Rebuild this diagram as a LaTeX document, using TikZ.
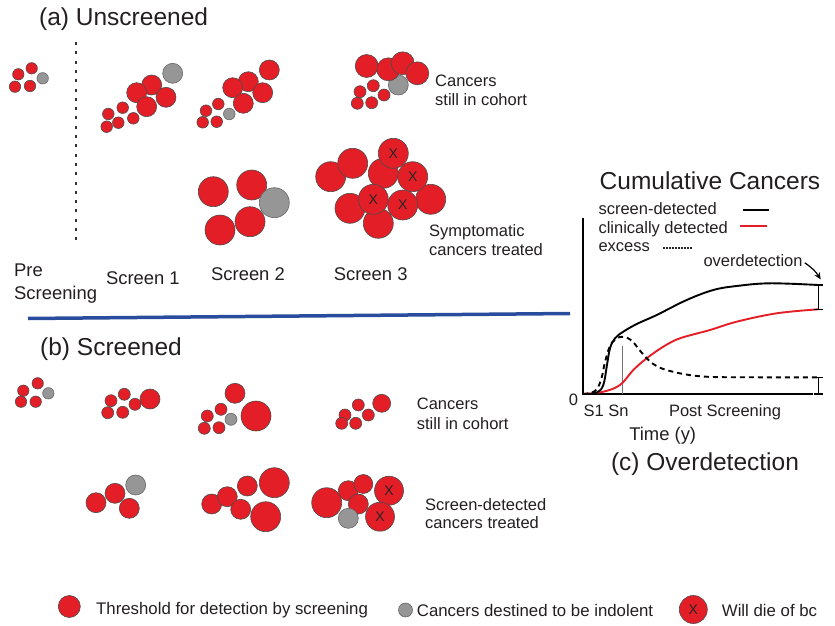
\documentclass[tikz,border=0pt]{standalone}
\usepackage{fontspec}
\setmainfont{Liberation Sans}
\usetikzlibrary{arrows.meta}
\definecolor{cred}{RGB}{228,30,38}
\definecolor{cgray}{RGB}{150,150,150}
\definecolor{cblue}{RGB}{42,76,156}
\definecolor{ctext}{RGB}{35,31,32}
\newcommand{\rdot}[3]{\draw[redc] (#1,#2) circle (#3pt);}
\newcommand{\gdot}[3]{\draw[grayc] (#1,#2) circle (#3pt);}
\begin{document}
\begin{tikzpicture}[x=1pt,y=-1pt,
  redc/.style={fill=cred, draw=black!70, line width=0.6pt},
  grayc/.style={fill=cgray, draw=black!60, line width=0.6pt},
  xcirc/.style={circle, fill=cred, draw=black!70, line width=0.6pt, inner sep=0pt, minimum size=#1, font=\fontsize{14}{14}\selectfont, text=black!85},
  lbl/.style={font=\fontsize{16.5}{19}\selectfont, text=ctext, inner sep=0pt, anchor=base west},
  scr/.style={font=\fontsize{18.4}{21}\selectfont, text=ctext, inner sep=0pt, anchor=base},
  ttl/.style={font=\fontsize{24.5}{28}\selectfont, text=ctext, inner sep=0pt, anchor=base west},
  leg/.style={font=\fontsize{16.8}{19}\selectfont, text=ctext, inner sep=0pt, anchor=base west},
  curve/.style={line width=1.9pt, line join=round, line cap=round}
]
\useasboundingbox (0,0) rectangle (835,626);

% ---------- titles ----------
\node[ttl] (ta) at (39,26) {(a) Unscreened};
\node[ttl] (tb) at (40,355) {(b) Screened};

% dotted separator and blue rule
\draw[line width=2pt, dash pattern=on 3pt off 6.3pt, black!80] (76,42) -- (76,240);
\draw[cblue, line width=3.5pt] (28,318.5) -- (570,313.5);

% ---------- (a) Unscreened ----------
% pre screening
\rdot{18.3}{74.3}{5.7} \rdot{31.7}{68.3}{5.7} \gdot{42.7}{78.3}{5.7}
\rdot{15}{86.7}{5.7} \rdot{30}{86}{5.7}
% screen 1
\gdot{172.7}{73.3}{10}
\rdot{151.7}{85}{10} \rdot{136.7}{92.7}{10} \rdot{166}{97.3}{10} \rdot{146.7}{106.7}{10}
\rdot{108.3}{114}{5.8} \rdot{122.7}{107.7}{5.8} \rdot{133.3}{118.3}{5.8}
\rdot{106.7}{126.7}{5.8} \rdot{118.3}{122.7}{5.8}
% screen 2
\rdot{269.3}{70}{10} \rdot{248.3}{81.7}{10} \rdot{232.7}{87.7}{10} \rdot{262.7}{92.7}{10} \rdot{243.3}{103.3}{10}
\rdot{206}{110.7}{5.8} \rdot{218.3}{104}{5.8} \gdot{229.3}{114}{5.8}
\rdot{202.7}{122.3}{5.8} \rdot{216.7}{121.7}{5.8}
% screen 3
\gdot{398.3}{85}{10}
\rdot{366.7}{66}{11.5} \rdot{388.3}{69.3}{11.5} \rdot{402.7}{63.3}{11.5} \rdot{417.3}{73.3}{11.5}
\rdot{373.3}{85.7}{6} \rdot{360}{91.7}{6} \rdot{384}{95}{6} \rdot{357.3}{103.3}{6} \rdot{371.7}{102.7}{6}
\node[lbl] (ca1) at (435,86.7) {Cancers};
\node[lbl] (ca2) at (435,105.7) {still in cohort};

% screen 2 symptomatic
\rdot{213.3}{191.7}{15} \rdot{251.7}{185}{15} \gdot{274.3}{202.7}{15}
\rdot{220}{230}{15} \rdot{250}{221.7}{15}
% screen 3 symptomatic
\rdot{330.7}{176.7}{15} \rdot{352.7}{163.3}{15} \rdot{383.3}{173.3}{15}
\rdot{350}{208.3}{15} \rdot{430.7}{199.3}{15} \rdot{378.3}{223.3}{15}
\node[xcirc=30pt] (x1) at (393.3,153.3) {X};
\node[xcirc=30pt] (x2) at (412.7,176.7) {X};
\node[xcirc=30pt] (x3) at (373.3,199.3) {X};
\node[xcirc=30pt] (x4) at (402.7,205) {X};
\node[lbl] (sy1) at (429,236.7) {Symptomatic};
\node[lbl] (sy2) at (429,255) {cancers treated};

% column labels
\node[font=\fontsize{18.4}{21}\selectfont, text=ctext, inner sep=0pt, anchor=base west] (pre1) at (14,276) {Pre};
\node[font=\fontsize{18.4}{21}\selectfont, text=ctext, inner sep=0pt, anchor=base west] (pre2) at (14,299) {Screening};
\node[scr] (s1) at (142.9,284) {Screen 1};
\node[scr] (s2) at (248,280) {Screen 2};
\node[scr] (s3) at (370.7,280) {Screen 3};

% ---------- (b) Screened ----------
\rdot{23.3}{390.7}{5.7} \rdot{37.7}{383.3}{5.7} \gdot{48.3}{393.3}{5.7}
\rdot{21}{401.7}{5.7} \rdot{35.7}{401.7}{5.7}

\rdot{111}{400.7}{6} \rdot{124.3}{394.3}{6} \rdot{135}{404.3}{6}
\rdot{107.7}{412.7}{6} \rdot{122.7}{412.3}{6} \rdot{150}{399}{10}

\rdot{235}{393.3}{10} \rdot{221}{409.3}{6} \rdot{207.3}{416}{6} \gdot{231}{419.3}{6}
\rdot{204.3}{428.3}{6} \rdot{219}{427.7}{6} \rdot{256}{416}{15}

\rdot{345}{415}{6} \rdot{358.3}{405}{6} \rdot{368.3}{415}{6}
\rdot{341.7}{423.3}{6} \rdot{355.7}{423.3}{6} \rdot{381.7}{403.3}{9}
\node[lbl] (cb1) at (416.7,409.3) {Cancers};
\node[lbl] (cb2) at (416.7,429.3) {still in cohort};

\rdot{96}{502.7}{10} \rdot{115}{493.3}{10} \gdot{135.7}{485}{10} \rdot{129.3}{508.3}{10}

\rdot{211.7}{504}{10} \rdot{227.3}{496.7}{10} \rdot{247.3}{486}{10} \rdot{240.7}{509.3}{10}
\rdot{274.3}{482.7}{15} \rdot{265.7}{516.7}{15}

\rdot{326.7}{502.7}{15} \rdot{348.3}{490.7}{10} \rdot{363.3}{484}{9.5} \rdot{358.3}{504}{10}
\gdot{348.3}{518.3}{10}
\node[xcirc=29pt] (x5) at (389,490.7) {X};
\node[xcirc=29pt] (x6) at (380,516.7) {X};
\node[lbl] (sd1) at (425,510) {Screen-detected};
\node[lbl] (sd2) at (425,528.3) {cancers treated};

% ---------- (c) chart ----------
\node[font=\fontsize{24.5}{28}\selectfont, text=ctext, inner sep=0pt, anchor=base] (cc) at (710,189.3) {Cumulative Cancers};
\node[lbl] (l1) at (598.3,214.3) {screen-detected};
\node[lbl] (l2) at (598.3,233) {clinically detected};
\node[lbl] (l3) at (598.3,251.7) {excess};
\node[lbl] (od) at (703.3,266.7) {overdetection};
\draw[line width=2pt, black] (742.7,210) -- (769.3,210);
\draw[line width=2pt, cred] (740,226) -- (766.7,226);
\draw[line width=1.4pt, black!85, dash pattern=on 1.4pt off 1.6pt] (663.3,248) -- (691.7,248);

% axes
\draw[line width=2pt, black] (583.3,218) -- (583.3,394) -- (813.3,394);
\draw[line width=0.8pt, black!55] (622.3,346) -- (622.3,394);

% curves
\draw[curve, cred] plot[smooth, tension=0.6] coordinates {(583.3,394) (603.3,391.7) (620,385) (633.3,370) (646.7,358.3) (663.3,346.7) (680,338.3) (710,330) (736.7,321.7) (776.7,313.3) (818.3,309.3)};
\draw[curve, black, dash pattern=on 5pt off 4pt, line cap=butt] plot[smooth, tension=0.6] coordinates {(583.3,394) (595,391) (601,380) (605,362) (610,346) (616,339) (623.3,336.7) (632,341) (642,353) (653.3,364) (670,371) (703,376.5) (760,377.3) (818.3,377.3)};
\draw[curve, black] plot[smooth, tension=0.6] coordinates {(583.3,394) (596.7,392.7) (603.3,385) (606.7,366.7) (610,348.3) (615,338.3) (623.3,331.7) (636.7,324) (656.7,315) (686.7,300) (713.3,290) (736.7,286) (770,283.3) (818.3,285)};

% overdetection brackets and arrow
\draw[line width=1.5pt, black] (814,285) -- (822.6,285) (818.3,285) -- (818.3,309.3) (814,309.3) -- (822.6,309.3);
\draw[line width=1.5pt, black] (814,377.3) -- (822.6,377.3) (818.3,377.3) -- (818.3,394) (814,394) -- (822.6,394);
\coordinate (arrowtip) at (820.7,279.5);
\draw[line width=1.2pt, -{Stealth[length=7pt,width=6pt]}] ([xshift=2pt,yshift=-2pt]od.east) to[bend left=12] (arrowtip);

\node[font=\fontsize{16.5}{19}\selectfont, text=ctext, inner sep=0pt, anchor=base] (zero) at (573.5,405) {0};
\node[font=\fontsize{16.5}{19}\selectfont, text=ctext, inner sep=0pt, anchor=base west] (ssn) at (583.5,416.5) {S1 Sn};
\node[font=\fontsize{16.5}{19}\selectfont, text=ctext, inner sep=0pt, anchor=base] (ps) at (725,416.5) {Post Screening};
\node[scr] (time) at (662.7,440) {Time (y)};
\node[font=\fontsize{24.5}{28}\selectfont, text=ctext, inner sep=0pt, anchor=base] (oc) at (705,470) {(c) Overdetection};

% ---------- legend ----------
\rdot{69.3}{606.5}{11}
\node[leg] (lg1) at (96,614) {Threshold for detection by screening};
\gdot{405.5}{610}{7}
\node[leg] (lg2) at (416.7,616) {Cancers destined to be indolent};
\node[xcirc=28pt] (lgx) at (693.3,609.5) {X};
\node[leg] (lg3) at (721.7,616.5) {Will die of bc};
\end{tikzpicture}
\end{document}
